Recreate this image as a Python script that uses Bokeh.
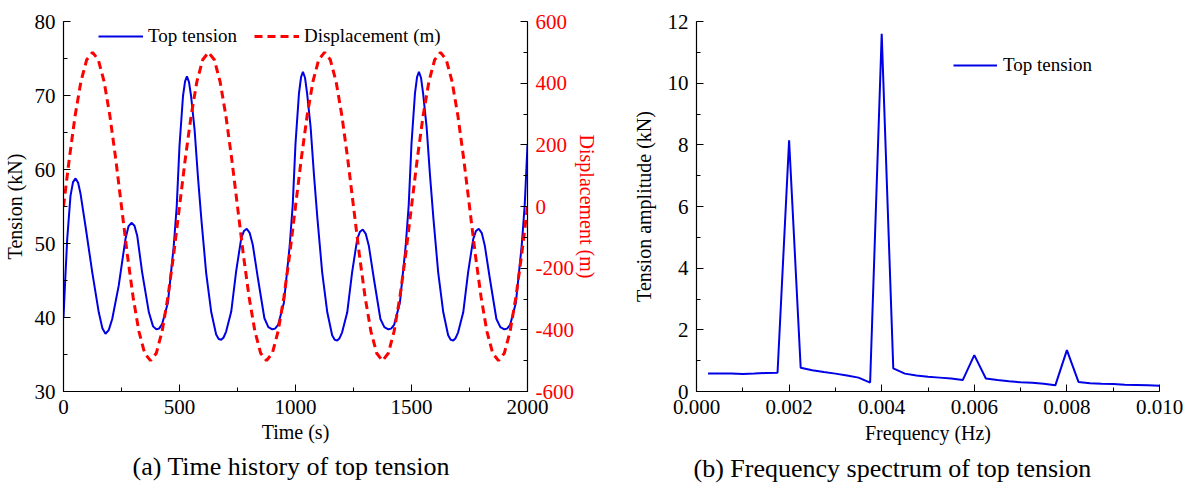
from bokeh.plotting import figure
from bokeh.models import (Range1d, LinearAxis, Legend, LegendItem, Title,
                          SingleIntervalTicker, PrintfTickFormatter)
from bokeh.layouts import row
from bokeh.embed import file_html
from bokeh.resources import INLINE

# ---------------- data ----------------
tension_time = [
    0, 8, 16, 30, 41, 52, 63, 73, 95, 124, 152, 168, 181, 195, 210, 238, 267, 280, 293, 306, 318, 339, 368, 386,
    400, 412, 425, 450, 475, 488, 500, 515, 524, 532, 541, 550, 565, 580, 595, 615, 637, 658, 669, 680, 690, 701,
    723, 744, 766, 778, 790, 803, 816, 838, 866, 883,
    900, 912, 925, 950, 975, 988, 1000, 1015, 1024, 1032, 1041, 1050, 1065, 1080, 1095, 1115, 1137, 1158, 1169,
    1180, 1190, 1201, 1223, 1244, 1266, 1278, 1290, 1303, 1316, 1338, 1366, 1383,
    1400, 1412, 1425, 1450, 1475, 1488, 1500, 1515, 1524, 1532, 1541, 1550, 1565, 1580, 1595, 1615, 1637, 1658,
    1669, 1680, 1690, 1701, 1723, 1744, 1766, 1778, 1790, 1803, 1816, 1838, 1866, 1883,
    1900, 1912, 1925, 1950, 1975, 1988, 2000,
]
tension_kn = [
    40.0, 45.5, 50.6, 56.4, 58.3, 58.8, 58.2, 56.8, 52.3, 46.1, 40.7, 38.5, 37.8, 38.3, 39.8, 44.3, 50.6, 52.3,
    52.8, 52.4, 51.0, 46.1, 40.7, 38.8,
    38.4, 38.5, 39.1, 42.0, 49.6, 55.0, 63.2, 69.9, 71.9, 72.6, 71.8, 69.9, 65.4, 58.8, 53.0, 46.0, 40.7, 37.7,
    37.1, 37.0, 37.3, 38.1, 40.8, 46.2, 50.7, 51.7, 52.0, 51.4, 49.8, 45.3, 39.9, 38.7,
    38.4, 38.5, 39.0, 42.0, 49.7, 55.2, 63.5, 70.3, 72.5, 73.2, 72.4, 70.3, 65.8, 59.1, 53.2, 46.1, 40.7, 37.6,
    37.0, 36.9, 37.2, 38.0, 40.7, 46.1, 50.6, 51.6, 51.9, 51.3, 49.7, 45.2, 39.8, 38.7,
    38.4, 38.5, 39.0, 42.0, 49.7, 55.2, 63.5, 70.3, 72.5, 73.2, 72.4, 70.3, 65.8, 59.1, 53.2, 46.1, 40.7, 37.6,
    37.0, 36.9, 37.2, 38.0, 40.7, 46.1, 50.6, 51.7, 52.0, 51.4, 49.7, 45.2, 39.8, 38.7,
    38.4, 38.5, 39.0, 42.0, 49.7, 55.2, 63.3,
]

disp_time = [
    0, 25, 50, 75, 100, 125, 150, 175, 200, 225, 250, 275, 300, 325, 350, 375, 400, 425, 450, 475,
    500, 525, 550, 575, 600, 625, 650, 675, 700, 725, 750, 775, 800, 825, 850, 875, 900, 925, 950, 975,
    1000, 1025, 1050, 1075, 1100, 1125, 1150, 1175, 1200, 1225, 1250, 1275, 1300, 1325, 1350, 1375, 1400, 1425, 1450, 1475,
    1500, 1525, 1550, 1575, 1600, 1625, 1650, 1675, 1700, 1725, 1750, 1775, 1800, 1825, 1850, 1875, 1900, 1925, 1950, 1975,
    2000,
]
disp_m = [
    0, 155, 294, 405, 476, 500, 476, 405, 294, 155, 0, -155, -294, -405, -476, -500, -476, -405, -294, -155,
    0, 155, 294, 405, 476, 500, 476, 405, 294, 155, 0, -155, -294, -405, -476, -500, -476, -405, -294, -155,
    0, 155, 294, 405, 476, 500, 476, 405, 294, 155, 0, -155, -294, -405, -476, -500, -476, -405, -294, -155,
    0, 155, 294, 405, 476, 500, 476, 405, 294, 155, 0, -155, -294, -405, -476, -500, -476, -405, -294, -155,
    0,
]

freq_hz = [
    0.00025, 0.0005, 0.00075, 0.001, 0.00125, 0.0015, 0.00175, 0.002, 0.00225, 0.0025,
    0.00275, 0.003, 0.00325, 0.0035, 0.00375, 0.004, 0.00425, 0.0045, 0.00475, 0.005,
    0.00525, 0.0055, 0.00575, 0.006, 0.00625, 0.0065, 0.00675, 0.007, 0.00725, 0.0075,
    0.00775, 0.008, 0.00825, 0.0085, 0.00875, 0.009, 0.00925, 0.0095, 0.00975, 0.01,
]
amp_kn = [
    0.58, 0.58, 0.58, 0.57, 0.58, 0.60, 0.61, 8.15, 0.77, 0.69,
    0.63, 0.58, 0.52, 0.45, 0.29, 11.6, 0.75, 0.58, 0.52, 0.48,
    0.45, 0.42, 0.37, 1.18, 0.42, 0.37, 0.33, 0.30, 0.28, 0.25,
    0.20, 1.34, 0.31, 0.27, 0.25, 0.24, 0.22, 0.21, 0.20, 0.19,
]

caption_a = "(a) Time history of top tension"
caption_b = "(b) Frequency spectrum of top tension"

FONT = "Liberation Serif"
BLUE = "#0000e6"
RED = "#ff0000"


def style_axis(ax, color="black"):
    ax.axis_line_color = "black"
    ax.axis_line_width = 1.2
    ax.major_tick_line_color = "black"
    ax.minor_tick_line_color = "black"
    ax.major_tick_in = 7
    ax.major_tick_out = 0
    ax.minor_tick_in = 4
    ax.minor_tick_out = 0
    ax.major_label_text_font = FONT
    ax.major_label_text_font_size = "21px"
    ax.major_label_text_color = color
    ax.major_label_standoff = 8
    ax.axis_label_text_font = FONT
    ax.axis_label_text_font_size = "20px"
    ax.axis_label_text_font_style = "normal"
    ax.axis_label_text_color = color


# ---------------- left: time history ----------------
p1 = figure(width=600, height=488, output_backend="svg", toolbar_location=None,
            x_range=Range1d(0, 2000), y_range=Range1d(30, 80), title=None,
            min_border_left=63, min_border_right=73, min_border_top=21, min_border_bottom=95)
p1.outline_line_color = None
p1.xgrid.visible = False
p1.ygrid.visible = False
p1.extra_y_ranges = {"disp": Range1d(-600, 600)}

r_t = p1.line(tension_time, tension_kn, line_color=BLUE, line_width=2)
r_d = p1.line(disp_time, disp_m, line_color=RED, line_width=3, line_dash="8 5", y_range_name="disp")

p1.xaxis.ticker = SingleIntervalTicker(interval=500, num_minor_ticks=2)
p1.yaxis.ticker = SingleIntervalTicker(interval=10, num_minor_ticks=2)
p1.xaxis.axis_label = "Time (s)"
p1.yaxis.axis_label = "Tension (kN)"
style_axis(p1.xaxis[0])
style_axis(p1.yaxis[0])
p1.xaxis.axis_label_standoff = 4
p1.yaxis.axis_label_standoff = 6

ax_r = LinearAxis(y_range_name="disp", axis_label="Displacement (m)",
                  ticker=SingleIntervalTicker(interval=200, num_minor_ticks=2),
                  formatter=PrintfTickFormatter(format="%d"))
style_axis(ax_r, RED)
ax_r.major_label_standoff = 8
ax_r.axis_label_standoff = -1
ax_r.axis_label_orientation = "vertical"
p1.add_layout(ax_r, "right")

leg1 = Legend(items=[LegendItem(label="Top tension", renderers=[r_t]),
                     LegendItem(label="Displacement (m)", renderers=[r_d])],
              orientation="horizontal", location=(35, 344),
              border_line_color=None, background_fill_alpha=0,
              label_text_font=FONT, label_text_font_size="19px", label_text_color="black",
              glyph_width=45, label_standoff=5, spacing=17, padding=0, margin=0)
p1.add_layout(leg1)
p1.add_layout(Title(text=caption_a, align="left", offset=69, text_font=FONT, text_font_size="26px",
                    text_font_style="normal", text_color="black", standoff=9), "below")

# ---------------- right: spectrum ----------------
p2 = figure(width=590, height=488, output_backend="svg", toolbar_location=None,
            x_range=Range1d(0, 0.010), y_range=Range1d(0, 12), title=None,
            min_border_left=96, min_border_right=31, min_border_top=16, min_border_bottom=97)
p2.outline_line_color = None
p2.xgrid.visible = False
p2.ygrid.visible = False

r_s = p2.line(freq_hz, amp_kn, line_color=BLUE, line_width=2)
p2.xaxis.ticker = SingleIntervalTicker(interval=0.002, num_minor_ticks=2)
p2.yaxis.ticker = SingleIntervalTicker(interval=2, num_minor_ticks=2)
p2.xaxis.formatter = PrintfTickFormatter(format="%.3f")
p2.xaxis.axis_label = "Frequency (Hz)"
p2.yaxis.axis_label = "Tension amplitude (kN)"
style_axis(p2.xaxis[0])
style_axis(p2.yaxis[0])
p2.xaxis.axis_label_standoff = 5
p2.yaxis.axis_label_standoff = 10

leg2 = Legend(items=[LegendItem(label="Top tension", renderers=[r_s])],
              location=(257, 315), border_line_color=None, background_fill_alpha=0,
              label_text_font=FONT, label_text_font_size="19px", label_text_color="black",
              glyph_width=44, label_standoff=6, padding=0, margin=0)
p2.add_layout(leg2)
p2.add_layout(Title(text=caption_b, align="left", offset=-3, text_font=FONT, text_font_size="26px",
                    text_font_style="normal", text_color="black", standoff=11), "below")

layout = row(p1, p2)
open("out.html", "w").write(file_html(layout, INLINE))
